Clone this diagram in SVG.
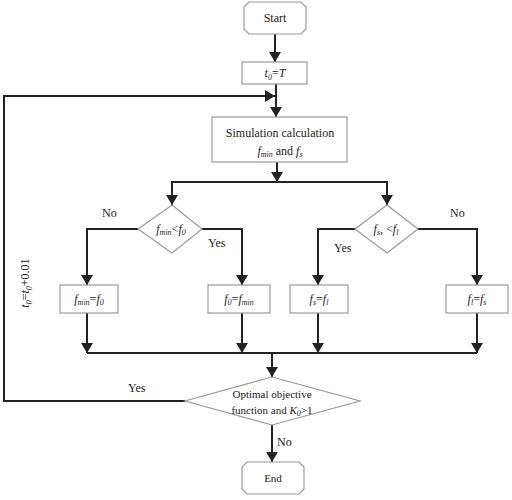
<svg xmlns="http://www.w3.org/2000/svg" width="512" height="500" viewBox="0 0 512 500">
<style>
.shape{fill:#fff;stroke:#9a9a9a;stroke-width:1.2}
.conn{fill:none;stroke:#222;stroke-width:2}
text{font-family:"Liberation Serif","Times New Roman",serif;fill:#222;font-size:12px}
.t{text-anchor:middle}
.i{font-style:italic}
.sub{font-size:8px;font-style:italic}
</style>
<defs>
<marker id="arr" viewBox="0 0 10 12" markerWidth="10" markerHeight="13" refX="10" refY="6" orient="auto" markerUnits="userSpaceOnUse">
<path d="M0,0 L10,6 L0,12 z" fill="#222"/>
</marker>
</defs>
<g id="connectors">
<path class="conn" d="M275,34 V62" marker-end="url(#arr)"/>
<path class="conn" d="M276,84 V117" marker-end="url(#arr)"/>
<path class="conn" d="M185,401 H4 V96 H275" marker-end="url(#arr)"/>
<path class="conn" d="M277,162 V182" marker-end="url(#arr)"/>
<path class="conn" d="M277,182 H172 V205" marker-end="url(#arr)"/>
<path class="conn" d="M277,182 H387 V205" marker-end="url(#arr)"/>
<path class="conn" d="M138,229 H87 V285" marker-end="url(#arr)"/>
<path class="conn" d="M202,229 H242 V285" marker-end="url(#arr)"/>
<path class="conn" d="M355,229 H318 V285" marker-end="url(#arr)"/>
<path class="conn" d="M418,229 H477 V285" marker-end="url(#arr)"/>
<path class="conn" d="M87,313 V353" marker-end="url(#arr)"/>
<path class="conn" d="M242,313 V353" marker-end="url(#arr)"/>
<path class="conn" d="M318,313 V353" marker-end="url(#arr)"/>
<path class="conn" d="M477,313 V353" marker-end="url(#arr)"/>
<path class="conn" d="M87,353 H477"/>
<path class="conn" d="M272,353 V377" marker-end="url(#arr)"/>
<path class="conn" d="M272,425 V462" marker-end="url(#arr)"/>
<text x="102" y="217">No</text>
<text x="208" y="247">Yes</text>
<text x="334" y="252">Yes</text>
<text x="450" y="217">No</text>
<text x="128" y="392">Yes</text>
<text x="277" y="446">No</text>
<text class="t" transform="translate(29,283) rotate(-90)"><tspan class="i">t</tspan><tspan class="sub" dy="3">0</tspan><tspan dy="-3">=</tspan><tspan class="i">t</tspan><tspan class="sub" dy="3">0</tspan><tspan dy="-3">+0.01</tspan></text>
</g>
<g id="start">
<path class="shape" d="M249,2 H301 L306,7 V29 L301,34 H249 L244,29 V7 Z"/>
<text class="t" x="275" y="22">Start</text>
</g>
<g id="init">
<rect class="shape" x="242" y="62" width="65" height="22"/>
<text class="t" x="275" y="77"><tspan class="i">t</tspan><tspan class="sub" dy="3">0</tspan><tspan dy="-3">=</tspan><tspan class="i">T</tspan></text>
</g>
<g id="sim">
<rect class="shape" x="212" y="117" width="135" height="45"/>
<text class="t" x="280" y="137">Simulation calculation</text>
<text class="t" x="280" y="155"><tspan class="i">f</tspan><tspan class="sub" dy="2">min</tspan><tspan dy="-2"> and </tspan><tspan class="i">f</tspan><tspan class="sub" dy="2">s</tspan></text>
</g>
<g id="d1">
<path class="shape" d="M172,205 L202,229 L172,253 L138,229 Z"/>
<text class="t" x="171" y="233"><tspan class="i">f</tspan><tspan class="sub" dy="2">min</tspan><tspan dy="-2">&lt;</tspan><tspan class="i">f</tspan><tspan class="sub" dy="2">0</tspan></text>
</g>
<g id="d2">
<path class="shape" d="M387,205 L418,229 L387,253 L355,229 Z"/>
<text class="t" x="386" y="233"><tspan class="i">f</tspan><tspan class="sub" dy="2">s</tspan><tspan dy="-2">, &lt;</tspan><tspan class="i">f</tspan><tspan class="sub" dy="2">l</tspan></text>
</g>
<g id="b1">
<rect class="shape" x="60" y="285" width="58" height="28"/>
<text class="t" x="89" y="303"><tspan class="i">f</tspan><tspan class="sub" dy="2">min</tspan><tspan dy="-2">=</tspan><tspan class="i">f</tspan><tspan class="sub" dy="2">0</tspan></text>
</g>
<g id="b2">
<rect class="shape" x="208" y="285" width="62" height="28"/>
<text class="t" x="239" y="303"><tspan class="i">f</tspan><tspan class="sub" dy="2">0</tspan><tspan dy="-2">=</tspan><tspan class="i">f</tspan><tspan class="sub" dy="2">min</tspan></text>
</g>
<g id="b3">
<rect class="shape" x="290" y="285" width="58" height="28"/>
<text class="t" x="319" y="303"><tspan class="i">f</tspan><tspan class="sub" dy="2">s</tspan><tspan dy="-2">=</tspan><tspan class="i">f</tspan><tspan class="sub" dy="2">l</tspan></text>
</g>
<g id="b4">
<rect class="shape" x="446" y="285" width="62" height="28"/>
<text class="t" x="477" y="303"><tspan class="i">f</tspan><tspan class="sub" dy="2">l</tspan><tspan dy="-2">=</tspan><tspan class="i">f</tspan><tspan class="sub" dy="2">s</tspan></text>
</g>
<g id="d3">
<path class="shape" d="M272,377 L360,401 L272,425 L185,401 Z"/>
<text class="t" x="272" y="398" style="font-size:11px">Optimal objective</text>
<text class="t" x="272" y="414" style="font-size:11px">function and <tspan class="i">K</tspan><tspan class="sub" dy="2">0</tspan><tspan dy="-2">&gt;1</tspan></text>
</g>
<g id="end">
<path class="shape" d="M247,462 H299 L304,467 V489 L299,494 H247 L242,489 V467 Z"/>
<text class="t" x="273" y="482" style="font-size:11px">End</text>
</g>
</svg>
